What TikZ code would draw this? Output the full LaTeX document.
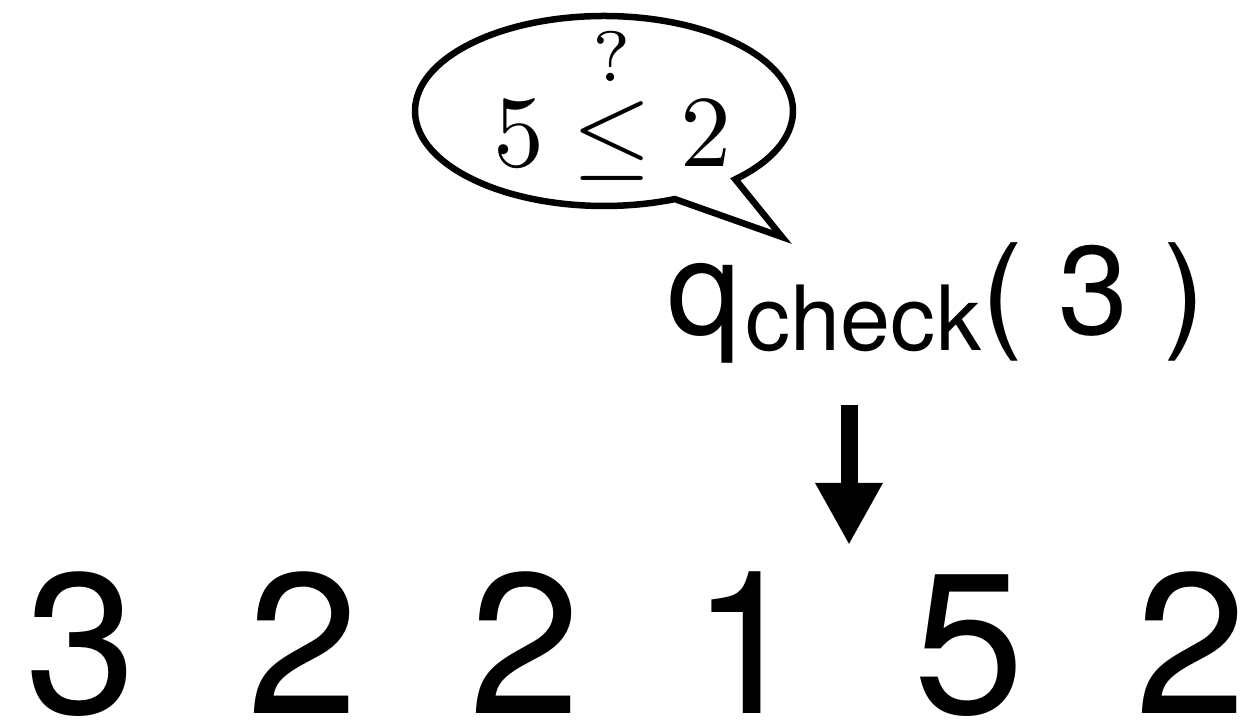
\documentclass[tikz,border=0pt]{standalone}
\usepackage{amsmath}
\usepackage{graphicx}
\usepackage[no-math]{fontspec}
\newfontfamily\helv{TeX Gyre Heros}
\usetikzlibrary{arrows.meta}
\begin{document}
\begin{tikzpicture}[x=1pt,y=1pt,
  digit/.style={inner sep=0pt,anchor=base,font=\helv\fontsize{200}{220}\selectfont},
  bubble/.style={draw=black,line width=6.5pt,line join=miter,fill=white},
  pointer/.style={line width=17pt,-{Triangle[width=63pt,length=62pt]}}]
\useasboundingbox (0,0) rectangle (1255,722);
% speech bubble
\coordinate (bc) at (604,611);
\coordinate (tip) at (782,485);
\draw[bubble] (bc) ++(-46:189pt and 95pt) coordinate (bB)
  arc[start angle=-46,end angle=292,x radius=189pt,y radius=95pt] coordinate (bA)
  -- (tip) -- cycle;
\node[inner sep=0pt,anchor=base] (cmp) at (612,555) {\scalebox{10.2}{$5 \overset{?}{\leq} 2$}};
% query
\node[inner sep=0pt,anchor=base west,font=\helv] (q) at (667,387)
  {\fontsize{132}{140}\selectfont q\kern5pt\raisebox{-16pt}{\fontsize{90}{100}\selectfont check}\fontsize{126}{140}\selectfont( 3 )};
% arrow
\coordinate (atop) at (849,317);
\coordinate (abot) at (849,177);
\draw[pointer] (atop) -- (abot);
% array
\node[digit] (d1) at (81,8) {3};
\node[digit] (d2) at (303,8) {2};
\node[digit] (d3) at (525,8) {2};
\node[digit] (d4) at (747,8) {1};
\node[digit] (d5) at (969,8) {5};
\node[digit] (d6) at (1191,8) {2};
\end{tikzpicture}
\end{document}
